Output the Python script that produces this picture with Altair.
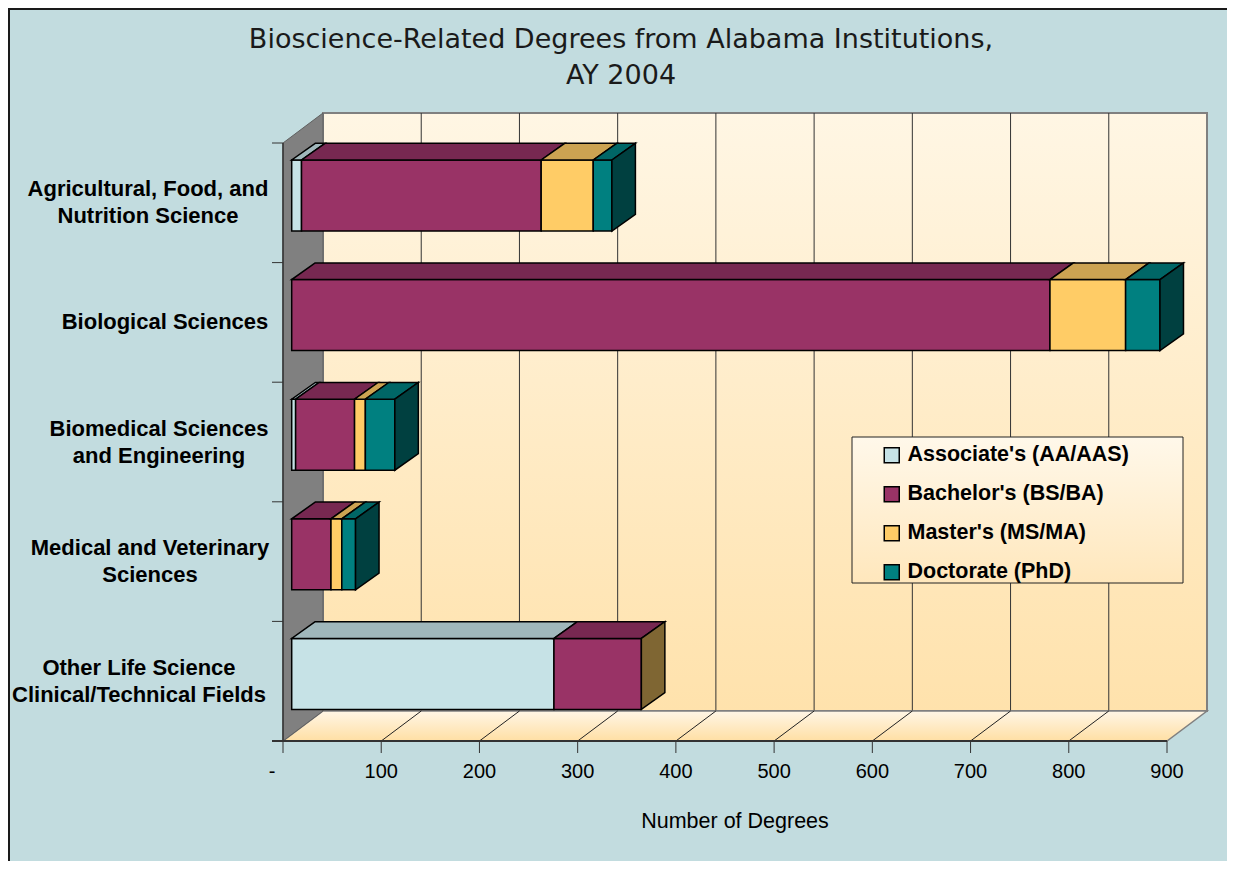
import altair as alt
import pandas as pd

# ---------------- data ----------------
categories = [
    "Agricultural, Food, and\nNutrition Science",
    "Biological Sciences",
    "Biomedical Sciences\nand Engineering",
    "Medical and Veterinary\nSciences",
    "Other Life Science\nClinical/Technical Fields",
]
series = ["Associate's (AA/AAS)", "Bachelor's (BS/BA)", "Master's (MS/MA)", "Doctorate (PhD)"]
associate = [10, 0, 4, 0, 267]
bachelor = [244, 772, 60, 40, 89]
master = [53, 77, 11, 11, 0]
doctorate = [19, 35, 30, 14, 0]
x_ticks = [0, 100, 200, 300, 400, 500, 600, 700, 800, 900]
x_tick_labels = ["-", "100", "200", "300", "400", "500", "600", "700", "800", "900"]
title_text = "Bioscience-Related Degrees from Alabama Institutions,\nAY 2004"
x_title = "Number of Degrees"

# ---------------- style ----------------
front_colors = ["#C6E2E6", "#993366", "#FFCC66", "#008080"]
top_colors = ["#A0B7BB", "#772851", "#CCA352", "#006666"]
side_colors = ["#647376", "#4C1933", "#7F6633", "#004040"]
BG = "#C2DCDF"
FONT = "Liberation Sans, Arial, sans-serif"
TITLE_FONT = "DejaVu Sans, Verdana, sans-serif"

# ---------------- layout (pixels) ----------------
X0, Y0 = 283, 113          # page position of plot origin
W, H = 924, 628            # plot area
PAD = dict(left=X0 - 8, top=Y0 - 8, right=1219 - (X0 - 8) - W, bottom=853 - (Y0 - 8) - H)
WALL_DX, WALL_DY = 40, 30  # 3-D depth of walls / floor
BAR_OFF_DX = 8.7           # front plane of bars vs. axis plane
BAR_DX, BAR_DY = 23.5, 16.7
BAR_TOP_PX, BAR_BOT_PX = 17, 88
TICK_PX = 11
XTICK_PX = 12
LABEL_LH = 27
KX = (W - WALL_DX) / 900.0
KY = (H - WALL_DY) / 5.0
WALL_XU, WALL_YU = WALL_DX / KX, WALL_DY / KY
XMAX = W / KX
YMIN = -WALL_YU
OFX = BAR_OFF_DX / KX
DXB, DYB = BAR_DX / KX, BAR_DY / KY
BT, BB = BAR_TOP_PX / KY, BAR_BOT_PX / KY
TICKU = TICK_PX / KX
label_center_px = [148, 165, 159, 150, 139]
dash_shift_px = -11

XS = alt.Scale(domain=[0, XMAX], nice=False, zero=False)
YS = alt.Scale(domain=[YMIN, 5], nice=False, zero=False, reverse=True)


def grad(c1, c2):
    return alt.Gradient(gradient="linear", x1=0, x2=0, y1=0, y2=1,
                        stops=[alt.GradientStop(offset=0, color=c1),
                               alt.GradientStop(offset=1, color=c2)])


def xq(f, **kw):
    return alt.X(f, scale=XS, axis=None, **kw)


def yq(f, **kw):
    return alt.Y(f, scale=YS, axis=None, **kw)


# ---------------- derived tables ----------------
values = [associate, bachelor, master, doctorate]
front_rows, top_rows, side_rows = [], [], []
for i in range(len(categories)):
    yt, yb = i + BT, i + BB
    start = 0
    vals = [v[i] for v in values]
    for s, v in enumerate(vals):
        if v > 0:
            x0, x1 = start + OFX, start + v + OFX
            front_rows.append(dict(series=series[s], x0=x0, x1=x1, yt=yt, yb=yb))
            pid = f"{i}-{s}"
            top_rows.append(dict(id=pid, col=top_colors[s], y=yt, xa=x0, xb=x1))
            top_rows.append(dict(id=pid, col=top_colors[s], y=yt - DYB, xa=x0 + DXB, xb=x1 + DXB))
        start += v
    last = max(s for s, v in enumerate(vals) if v > 0)
    end_s = min(last + 1, len(series) - 1)
    xe = start + OFX
    side_rows.append(dict(id=str(i), col=side_colors[end_s], x=xe, ya=yt, yb=yb))
    side_rows.append(dict(id=str(i), col=side_colors[end_s], x=xe + DXB, ya=yt - DYB, yb=yb - DYB))

front_df = pd.DataFrame(front_rows)
top_df = pd.DataFrame(top_rows)
side_df = pd.DataFrame(side_rows)

label_df = pd.DataFrame({
    "label": categories,
    "y": [i + 0.5 - (c.count("\n") * LABEL_LH / 2) / KY for i, c in enumerate(categories)],
    "lx": [(c - X0) / KX for c in label_center_px],
})

tick_df = pd.DataFrame({
    "t": x_ticks,
    "lab": x_tick_labels,
    "lx": [t + (dash_shift_px / KX if t == 0 else 0) for t in x_ticks],
})

# ---------------- layers ----------------
border = alt.Chart(pd.DataFrame({"a": [0]})).mark_rect(
    fill=None, stroke="#1a1a1a", strokeWidth=2
).encode(x=alt.value(-PAD["left"] + 1), x2=alt.value(W + 200),
         y=alt.value(-PAD["top"] + 1), y2=alt.value(H + 300))

back_wall = alt.Chart(pd.DataFrame({"x": [WALL_XU], "x2": [900 + WALL_XU],
                                    "y": [YMIN], "y2": [5 - WALL_YU]})).mark_rect(
    fill=grad("#FFF6E4", "#FFE2AC"), stroke="#808080", strokeWidth=2
).encode(x=xq("x:Q"), x2="x2:Q", y=yq("y:Q"), y2="y2:Q")

back_grid = alt.Chart(pd.DataFrame({"x": [t + WALL_XU for t in x_ticks[1:-1]]})).mark_rule(
    color="#333333", strokeWidth=1
).encode(x=xq("x:Q"), y=alt.datum(YMIN, scale=YS, axis=None), y2=alt.datum(5 - WALL_YU))

floor = alt.Chart(pd.DataFrame({"y": [5 - WALL_YU, 5], "xa": [WALL_XU, 0],
                                "xb": [900 + WALL_XU, 900]})).mark_area(
    orient="horizontal", fill=grad("#FFF6E6", "#FFDFA4"), stroke="#808080", strokeWidth=1.5
).encode(y=yq("y:Q"), x=xq("xa:Q", stack=None), x2="xb:Q")

floor_grid = alt.Chart(pd.DataFrame({"x": x_ticks[1:-1],
                                     "x2": [t + WALL_XU for t in x_ticks[1:-1]]})).mark_rule(
    color="#222222", strokeWidth=1
).encode(x=xq("x:Q"), x2="x2:Q", y=alt.datum(5, scale=YS, axis=None), y2=alt.datum(5 - WALL_YU))

left_wall = alt.Chart(pd.DataFrame({"x": [0, WALL_XU], "ya": [0, YMIN],
                                    "yb": [5, 5 - WALL_YU]})).mark_area(
    orient="vertical", fill="#808080", stroke="#5f5f5f", strokeWidth=1
).encode(x=xq("x:Q"), y=yq("ya:Q", stack=None), y2="yb:Q")

wall_edge = alt.Chart(pd.DataFrame({"a": [0]})).mark_rule(color="#333333", strokeWidth=1.5).encode(
    x=alt.datum(0, scale=XS, axis=None), y=alt.datum(0, scale=YS, axis=None), y2=alt.datum(5))

y_ticks = alt.Chart(pd.DataFrame({"y": list(range(len(categories) + 1))})).mark_rule(
    color="#333333", strokeWidth=1
).encode(x=alt.datum(-TICKU, scale=XS, axis=None), x2=alt.datum(0), y=yq("y:Q"))

x_tick_marks = alt.Chart(tick_df).mark_rule(color="#333333", strokeWidth=1).encode(
    x=xq("t:Q"), y=alt.datum(5, scale=YS, axis=None), y2=alt.datum(5 + XTICK_PX / KY))

x_tick_text = alt.Chart(tick_df).mark_text(
    align="center", baseline="middle", dy=31, font=FONT, fontSize=20, color="black"
).encode(x=xq("lx:Q"), y=alt.datum(5, scale=YS, axis=None), text="lab:N")

axis_line = alt.Chart(pd.DataFrame({"a": [0]})).mark_rule(color="#333333", strokeWidth=2).encode(
    x=alt.datum(-TICKU, scale=XS, axis=None), x2=alt.datum(900), y=alt.datum(5, scale=YS, axis=None))

axis_title = alt.Chart(pd.DataFrame({"t": [x_title]})).mark_text(
    align="center", baseline="middle", font=FONT, fontSize=21.5, color="black"
).encode(x=alt.value(735 - X0), y=alt.value(822 - Y0), text="t:N")

legend_box = alt.Chart(pd.DataFrame({"a": [0]})).mark_rect(
    fill=grad("#FFF8EA", "#FFE7BC"), stroke="#222222", strokeWidth=1
).encode(x=alt.value(852 - X0), x2=alt.value(1183 - X0),
         y=alt.value(437 - Y0), y2=alt.value(583 - Y0))

fronts = alt.Chart(front_df).mark_rect(stroke="black", strokeWidth=1.5).encode(
    x=xq("x0:Q"), x2="x1:Q", y=yq("yt:Q"), y2="yb:Q",
    color=alt.Color("series:N", scale=alt.Scale(domain=series, range=front_colors),
                    legend=alt.Legend(
                        orient="none", legendX=881 - X0, legendY=444.5 - Y0, title=None,
                        padding=0, symbolType="square", symbolSize=225,
                        symbolStrokeColor="black", symbolStrokeWidth=1.5,
                        labelFont=FONT, labelFontSize=21.5, labelFontWeight="bold",
                        labelColor="black", labelOffset=5, labelLimit=400,
                        rowPadding=16)))

tops = alt.Chart(top_df).mark_area(orient="horizontal", stroke="black", strokeWidth=1.5).encode(
    y=yq("y:Q"), x=xq("xa:Q", stack=None), x2="xb:Q",
    detail="id:N", fill=alt.Fill("col:N", scale=None))

sides = alt.Chart(side_df).mark_area(orient="vertical", stroke="black", strokeWidth=1.5).encode(
    x=xq("x:Q"), y=yq("ya:Q", stack=None), y2="yb:Q",
    detail="id:N", fill=alt.Fill("col:N", scale=None))

ylabels = alt.Chart(label_df).mark_text(
    align="center", baseline="middle", lineBreak="\n", lineHeight=LABEL_LH,
    font=FONT, fontSize=22, fontWeight="bold", color="black"
).encode(x=xq("lx:Q"), y=yq("y:Q"), text="label:N")

title = alt.Chart(pd.DataFrame({"t": [title_text]})).mark_text(
    align="center", baseline="middle", lineBreak="\n", lineHeight=36,
    font=TITLE_FONT, fontSize=27, color="#1a1a1a"
).encode(x=alt.value(621 - X0), y=alt.value(40 - Y0), text="t:N")

chart = alt.layer(
    back_wall, border, back_grid, floor, floor_grid, left_wall, wall_edge, y_ticks,
    x_tick_marks, axis_line, x_tick_text, axis_title,
    legend_box, fronts, tops, sides, ylabels, title
).properties(
    width=W, height=H, padding=PAD, autosize="none"
).configure(background=BG).configure_view(stroke=None)

chart.save("out.html", embed_options={"renderer": "svg", "actions": False})
